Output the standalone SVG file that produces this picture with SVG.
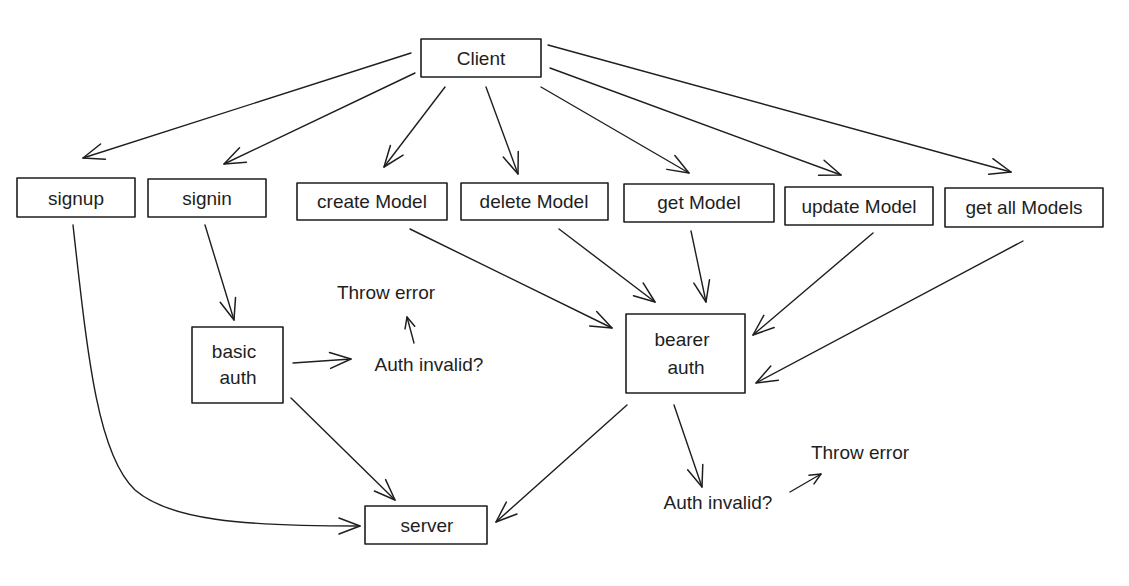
<svg xmlns="http://www.w3.org/2000/svg" width="1129" height="586" viewBox="0 0 1129 586">
  <style>
    .box { fill: none; stroke: #1e1e1e; stroke-width: 1.6; stroke-linejoin: round; }
    .lbl { font-family: "Liberation Sans", Arial, sans-serif; font-size: 19px; fill: #1e1e1e; text-anchor: middle; }
    .edge { fill: none; stroke: #1e1e1e; stroke-width: 1.4; stroke-linecap: round; marker-end: url(#ah); }
    .edge-s { fill: none; stroke: #1e1e1e; stroke-width: 1.4; stroke-linecap: round; marker-end: url(#ahs); }
  </style>
  <defs>
    <marker id="ah" viewBox="-24 -12 26 24" refX="0" refY="0" markerWidth="26" markerHeight="24" markerUnits="userSpaceOnUse" orient="auto">
      <path d="M-21,-8 L0,0 L-21,8" fill="none" stroke="#1e1e1e" stroke-width="1.5" stroke-linecap="round" stroke-linejoin="round"/>
    </marker>
    <marker id="ahs" viewBox="-14 -8 16 16" refX="0" refY="0" markerWidth="16" markerHeight="16" markerUnits="userSpaceOnUse" orient="auto">
      <path d="M-11,-5 L0,0 L-11,5" fill="none" stroke="#1e1e1e" stroke-width="1.5" stroke-linecap="round" stroke-linejoin="round"/>
    </marker>
  </defs>
  <rect width="1129" height="586" fill="#ffffff"/>

  <g id="connectors">
    <path class="edge" d="M411,53 L83,158"/>
    <path class="edge" d="M415,73 L224,164"/>
    <path class="edge" d="M445,87 L384,167"/>
    <path class="edge" d="M486,87 L518,174"/>
    <path class="edge" d="M541,87 L689,173"/>
    <path class="edge" d="M550,68 L841,175"/>
    <path class="edge" d="M548,45 L1011,172"/>
    <path class="edge" d="M73,225 C88,360 98,455 135,490 C170,520 240,526 360,526"/>
    <path class="edge" d="M205,225 L234,320"/>
    <path class="edge" d="M293,363 L351,359"/>
    <path class="edge-s" d="M414,343 L407,317"/>
    <path class="edge" d="M291,398 L395,500"/>
    <path class="edge" d="M410,229 L612,328"/>
    <path class="edge" d="M559,229 L655,302"/>
    <path class="edge" d="M691,231 L706,302"/>
    <path class="edge" d="M873,233 L753,335"/>
    <path class="edge" d="M1023,241 L756,383"/>
    <path class="edge" d="M627,405 L496,522"/>
    <path class="edge" d="M674,405 L702,487"/>
    <path class="edge-s" d="M790,492 L821,474"/>
  </g>

  <g id="client">
    <rect class="box" x="421" y="39" width="120" height="38"/>
    <text class="lbl" x="481" y="65">Client</text>
  </g>
  <g id="signup">
    <rect class="box" x="17" y="178" width="118" height="39"/>
    <text class="lbl" x="76" y="205">signup</text>
  </g>
  <g id="signin">
    <rect class="box" x="148" y="179" width="118" height="38"/>
    <text class="lbl" x="207" y="205">signin</text>
  </g>
  <g id="create-model">
    <rect class="box" x="297" y="183" width="150" height="37"/>
    <text class="lbl" x="372" y="208">create Model</text>
  </g>
  <g id="delete-model">
    <rect class="box" x="461" y="183" width="147" height="37"/>
    <text class="lbl" x="534" y="208">delete Model</text>
  </g>
  <g id="get-model">
    <rect class="box" x="624" y="184" width="150" height="38"/>
    <text class="lbl" x="699" y="209">get Model</text>
  </g>
  <g id="update-model">
    <rect class="box" x="785" y="187" width="148" height="38"/>
    <text class="lbl" x="859" y="213">update Model</text>
  </g>
  <g id="get-all-models">
    <rect class="box" x="945" y="188" width="158" height="39"/>
    <text class="lbl" x="1024" y="214">get all Models</text>
  </g>
  <g id="basic-auth">
    <rect class="box" x="192" y="327" width="91" height="76"/>
    <text class="lbl" x="234" y="358">basic</text>
    <text class="lbl" x="238" y="384">auth</text>
  </g>
  <g id="basic-auth-invalid">
    <text class="lbl" x="429" y="371">Auth invalid?</text>
  </g>
  <g id="basic-throw-error">
    <text class="lbl" x="386" y="299">Throw error</text>
  </g>
  <g id="bearer-auth">
    <rect class="box" x="626" y="314" width="119" height="79"/>
    <text class="lbl" x="682" y="346">bearer</text>
    <text class="lbl" x="686" y="374">auth</text>
  </g>
  <g id="bearer-auth-invalid">
    <text class="lbl" x="718" y="509">Auth invalid?</text>
  </g>
  <g id="bearer-throw-error">
    <text class="lbl" x="860" y="459">Throw error</text>
  </g>
  <g id="server">
    <rect class="box" x="365" y="506" width="122" height="38"/>
    <text class="lbl" x="427" y="532">server</text>
  </g>
</svg>
